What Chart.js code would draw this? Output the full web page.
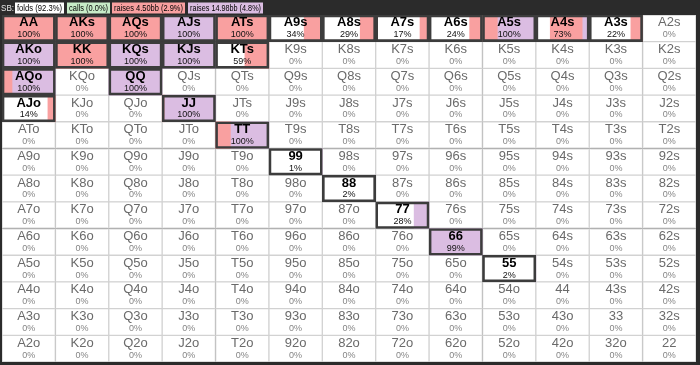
<!DOCTYPE html>
<html>
<head>
<meta charset="utf-8">
<script src="https://cdn.jsdelivr.net/npm/chart.js@4.4.1/dist/chart.umd.min.js"></script>
<style>
  html, body { margin: 0; padding: 0; background: #2b2b2b; }
  #wrap { width: 700px; height: 365px; position: relative; }
</style>
</head>
<body>
<div id="wrap"><canvas id="rangeChart"></canvas></div>
<script>
const ranks = ["A", "K", "Q", "J", "T", "9", "8", "7", "6", "5", "4", "3", "2"];
const position = "SB:";
const legendLabels = ["folds (92.3%)", "calls (0.0%)", "raises 4.50bb (2.9%)", "raises 14.98bb (4.8%)"];

// hands that are played at all; every other hand is 0% (always folded)
const playedHands = ["AA", "AKs", "AQs", "AJs", "ATs", "A9s", "A8s", "A7s", "A6s", "A5s", "A4s", "A3s",
  "AKo", "KK", "KQs", "KJs", "KTs", "AQo", "QQ", "AJo", "JJ", "TT", "99", "88", "77", "66", "55"];
const playedPct = [100, 100, 100, 100, 100, 34, 29, 17, 24, 100, 73, 22,
  100, 100, 100, 100, 59, 100, 100, 14, 100, 100, 1, 2, 28, 99, 2];
const raiseSmall = [100, 100, 100, 0, 100, 34, 29, 17, 24, 29, 61, 22,
  0, 100, 0, 0, 45, 20, 0, 14, 5, 29, 0, 0, 0, 0, 0];
const raiseBig = [0, 0, 0, 100, 0, 0, 0, 0, 0, 71, 12, 0,
  100, 0, 100, 100, 0, 80, 100, 0, 95, 71, 1, 2, 28, 99, 2];

const colFold = "#ffffff";
const colCall = "#c8ecc8";
const colSmall = "#f9a0a0";
const colBig = "#dbbde2";

function handName(r, c) {
  if (r === c) return ranks[r] + ranks[c];
  if (c > r) return ranks[r] + ranks[c] + "s";
  return ranks[c] + ranks[r] + "o";
}

const baseCells = [], smallCells = [], bigCells = [], outlineCells = [];
const labels = [];
for (let r = 0; r < ranks.length; r++) {
  for (let c = 0; c < ranks.length; c++) {
    const name = handName(r, c);
    const i = playedHands.indexOf(name);
    baseCells.push({ x: [c, c + 1], y: ranks[r] });
    if (i >= 0) {
      const big = raiseBig[i] / 100, small = raiseSmall[i] / 100;
      if (big > 0) bigCells.push({ x: [c + 1 - big, c + 1], y: ranks[r] });
      if (small > 0) smallCells.push({ x: [c + 1 - big - small, c + 1 - big], y: ranks[r] });
      outlineCells.push({ x: [c, c + 1], y: ranks[r] });
    }
    labels.push({ r: r, c: c, name: name, pct: i >= 0 ? playedPct[i] : 0, played: i >= 0 });
  }
}

const cellText = {
  id: "cellText",
  afterDatasetsDraw(chart) {
    const { ctx, scales: { x, y } } = chart;
    ctx.save();
    ctx.textAlign = "center";
    ctx.textBaseline = "middle";
    labels.forEach(function (l) {
      const cx = x.getPixelForValue(l.c + 0.5);
      const cy = y.getPixelForValue(l.r);
      ctx.fillStyle = l.played ? "#000000" : "#6a6a6a";
      ctx.font = (l.played ? "bold 13px " : "13px ") + "'Liberation Sans', Arial, sans-serif";
      ctx.fillText(l.name, cx, cy - 5.5);
      ctx.fillStyle = l.played ? "#111111" : "#858585";
      ctx.font = "9px 'Liberation Sans', Arial, sans-serif";
      ctx.fillText(l.pct + "%", cx, cy + 6.5);
    });
    ctx.restore();
  }
};

const header = {
  id: "header",
  afterDraw(chart) {
    const ctx = chart.ctx;
    ctx.save();
    ctx.textBaseline = "middle";
    ctx.textAlign = "left";
    ctx.font = "9px 'Liberation Sans', Arial, sans-serif";
    ctx.fillStyle = "#e6e6e6";
    ctx.fillText(position, 1, 8.5, 13);
    const fills = [colFold, colCall, colSmall, colBig];
    const boxX = [15, 67, 112, 188];
    const boxW = [49, 43, 73, 75];
    legendLabels.forEach(function (t, i) {
      ctx.fillStyle = fills[i];
      ctx.fillRect(boxX[i], 2.5, boxW[i], 11);
      ctx.fillStyle = "#000000";
      ctx.fillText(t, boxX[i] + 2, 8.5, boxW[i] - 4);
    });
    ctx.restore();
  }
};

const barOpts = { barPercentage: 1, categoryPercentage: 1, grouped: false, borderSkipped: false };

new Chart(document.getElementById("rangeChart"), {
  type: "bar",
  data: {
    labels: ranks,
    datasets: [
      Object.assign({ label: "played", data: outlineCells, backgroundColor: "rgba(0,0,0,0)", borderColor: "#3c3c3c", borderWidth: 2, order: 0 }, barOpts),
      Object.assign({ label: "raises 14.98bb", data: bigCells, backgroundColor: colBig, borderWidth: 0, order: 1 }, barOpts),
      Object.assign({ label: "raises 4.50bb", data: smallCells, backgroundColor: colSmall, borderWidth: 0, order: 2 }, barOpts),
      Object.assign({ label: "folds", data: baseCells, backgroundColor: colFold, borderColor: "#d2d2d2", borderWidth: 1, order: 3 }, barOpts)
    ]
  },
  options: {
    indexAxis: "y",
    responsive: true,
    maintainAspectRatio: false,
    animation: false,
    layout: { padding: { left: 2, right: 4, top: 15, bottom: 3 } },
    scales: {
      x: { type: "linear", min: 0, max: 13, display: false },
      y: { type: "category", display: false }
    },
    plugins: { legend: { display: false }, tooltip: { enabled: false } }
  },
  plugins: [cellText, header]
});
</script>
</body>
</html>
